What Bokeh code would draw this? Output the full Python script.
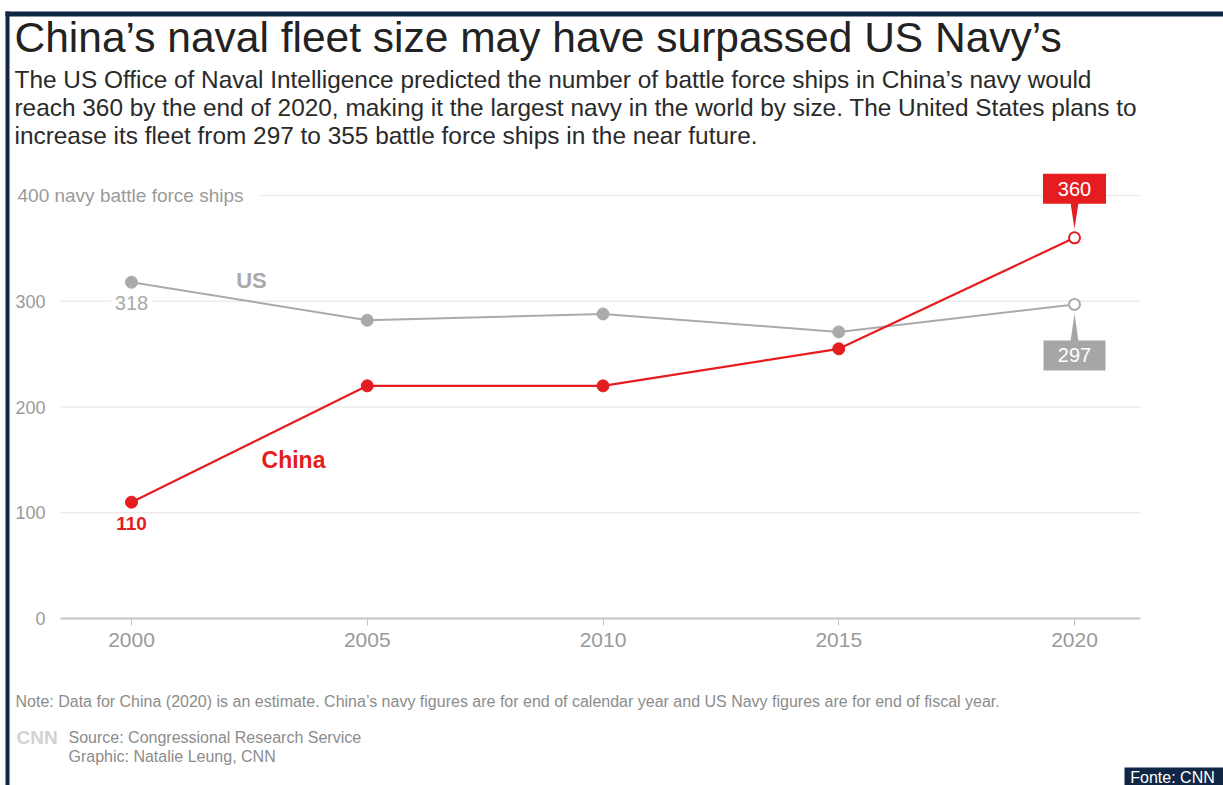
from bokeh.plotting import figure
from bokeh.models import Label, BoxAnnotation, FixedTicker, LinearAxis
from bokeh.core.properties import value
from bokeh.embed import file_html
from bokeh.resources import INLINE

# ---- data ----
years = [2000, 2005, 2010, 2015, 2020]
us_ships = [318, 282, 288, 271, 297]
china_ships = [110, 220, 220, 255, 360]
y_ticks = [0, 100, 200, 300, 400]
grid_vals = [100, 200, 300, 400]

TITLE = "China\u2019s naval fleet size may have surpassed US Navy\u2019s"
SUB = [
    "The US Office of Naval Intelligence predicted the number of battle force ships in China\u2019s navy would",
    "reach 360 by the end of 2020, making it the largest navy in the world by size. The United States plans to",
    "increase its fleet from 297 to 355 battle force ships in the near future.",
]
NOTE = ("Note: Data for China (2020) is an estimate. China\u2019s navy figures are for end of calendar year "
        "and US Navy figures are for end of fiscal year.")
SOURCE = "Source: Congressional Research Service"
GRAPHIC = "Graphic: Natalie Leung, CNN"

RED = "#e51d20"
GRAY = "#aaaaaa"
NAVY = "#0f2744"
FONT = "Liberation Sans"
GFONT = value(FONT)

W, H = 1223, 785
# canvas-pixel layout of the plotting area (whole canvas is the frame)
PX2000, PXPERYEAR = 131, 47.15
PY0, PYPER = 618, 1.0575
x0 = 2000 - PX2000 / PXPERYEAR
x1 = 2000 + (W - PX2000) / PXPERYEAR
y1 = PY0 / PYPER
y0 = -(H - PY0) / PYPER
sx = PXPERYEAR
sy = PYPER


def X(px):
    return x0 + px / sx


def Y(py):
    return y1 - py / sy


p = figure(width=W, height=H, output_backend="svg", toolbar_location=None,
           x_range=(x0, x1), y_range=(y0, y1),
           x_axis_location=None, y_axis_location=None,
           min_border=0, background_fill_color="white", border_fill_color="white")
p.outline_line_color = None
p.grid.visible = False

# gridlines
p.segment(x0=[X(60)] * len(grid_vals), y0=grid_vals, x1=[X(1140)] * len(grid_vals), y1=grid_vals,
          line_color="#ebebeb", line_width=1.5)

# axes
xa = LinearAxis(fixed_location=0, ticker=FixedTicker(ticks=years), bounds=(X(60), X(1140)))
xa.axis_line_color = "#c4c4c4"
xa.axis_line_width = 2
xa.major_tick_line_color = "#c4c4c4"
xa.major_tick_out = 7
xa.major_tick_in = 0
xa.minor_tick_line_color = None
xa.major_label_text_font = FONT
xa.major_label_text_font_size = "21px"
xa.major_label_text_color = "#9a9a9a"
xa.major_label_standoff = 7
p.add_layout(xa, "below")

ya = LinearAxis(fixed_location=X(60), ticker=FixedTicker(ticks=y_ticks), bounds=(0, 400))
ya.axis_line_color = None
ya.major_tick_line_color = None
ya.minor_tick_line_color = None
ya.major_label_text_font = FONT
ya.major_label_text_font_size = "18px"
ya.major_label_text_color = "#9a9a9a"
ya.major_label_standoff = 9
ya.major_label_overrides = {400: ""}
p.add_layout(ya, "left")

# lines
p.line(years, us_ships, line_color=GRAY, line_width=2)
p.line(years, china_ships, line_color=RED, line_width=2.2)
p.scatter(years[:-1], us_ships[:-1], size=12, fill_color=GRAY, line_color=GRAY)
p.scatter(years[:-1], china_ships[:-1], size=12, fill_color=RED, line_color=RED)
p.scatter(years[-1:], us_ships[-1:], size=11, fill_color="white", line_color=GRAY, line_width=2)
p.scatter(years[-1:], china_ships[-1:], size=11, fill_color="white", line_color=RED, line_width=2)

# y label for 400
p.add_layout(Label(x=X(17), y=400, text="400 navy battle force ships", text_font=FONT,
                   text_font_size="19px", text_color="#9a9a9a", text_baseline="middle",
                   background_fill_color="white", padding=(0, 16, 2, 2)))

# series labels
p.add_layout(Label(x=years[0], y=us_ships[0], y_offset=-21, text=str(us_ships[0]), text_font=FONT,
                   text_font_size="20px", text_color=GRAY, text_align="center", text_baseline="middle",
                   background_fill_color="white", padding=(4, 4, 0, 0)))
p.add_layout(Label(x=years[0], y=china_ships[0], y_offset=-21, text=str(china_ships[0]), text_font=FONT,
                   text_font_size="19px", text_font_style="bold", text_color=RED, text_align="center",
                   text_baseline="middle"))
p.add_layout(Label(x=X(251), y=Y(280), text="US", text_font=FONT, text_font_size="22px",
                   text_font_style="bold", text_color=GRAY, text_align="center", text_baseline="middle"))
p.add_layout(Label(x=X(293), y=Y(459), text="China", text_font=FONT, text_font_size="23px",
                   text_font_style="bold", text_color=RED, text_align="center", text_baseline="middle"))

# callouts for 2020
cx = years[-1]
top_c = china_ships[-1] + 49 / sy
bot_c = us_ships[-1] - 51 / sy
p.rect([cx], [top_c], width=63, height=30, width_units="screen", height_units="screen",
       fill_color=RED, line_color=None)
p.patch([cx - 4 / sx, cx + 4 / sx, cx], [top_c - 14 / sy, top_c - 14 / sy, china_ships[-1] + 9 / sy],
        fill_color=RED, line_color=None)
p.text([cx], [top_c], text=[str(china_ships[-1])], text_font=GFONT, text_font_size="20px",
       text_color="white", text_align="center", text_baseline="middle")
p.rect([cx], [bot_c], width=62, height=30, width_units="screen", height_units="screen",
       fill_color="#a6a6a6", line_color=None)
p.patch([cx - 4 / sx, cx + 4 / sx, cx], [bot_c + 14 / sy, bot_c + 14 / sy, us_ships[-1] - 9 / sy],
        fill_color="#a6a6a6", line_color=None)
p.text([cx], [bot_c], text=[str(us_ships[-1])], text_font=GFONT, text_font_size="20px",
       text_color="white", text_align="center", text_baseline="middle")

# title & subtitle
p.add_layout(Label(x=X(14), y=Y(37), text=TITLE, text_font=FONT, text_font_size="42.5px",
                   text_color="#222222", text_baseline="middle"))
for i, line in enumerate(SUB):
    p.add_layout(Label(x=X(14), y=Y(79 + 28 * i), text=line, text_font=FONT, text_font_size="24.4px",
                       text_color="#2a2a2a", text_baseline="middle"))

# footer
p.add_layout(Label(x=X(15), y=Y(701), text=NOTE, text_font=FONT, text_font_size="16px",
                   text_color="#8c8c8c", text_baseline="middle"))
p.add_layout(Label(x=X(16), y=Y(737), text="CNN", text_font=FONT, text_font_size="19px",
                   text_font_style="bold", text_color="#d2d2d2", text_baseline="middle"))
p.add_layout(Label(x=X(68), y=Y(737), text=SOURCE, text_font=FONT, text_font_size="16px",
                   text_color="#8c8c8c", text_baseline="middle"))
p.add_layout(Label(x=X(68), y=Y(756), text=GRAPHIC, text_font=FONT, text_font_size="16px",
                   text_color="#8c8c8c", text_baseline="middle"))

# frame borders of the screenshot
p.add_layout(BoxAnnotation(left=X(5), right=X(1223), top=Y(11), bottom=Y(16),
                           fill_color=NAVY, fill_alpha=1, line_color=None))
p.add_layout(BoxAnnotation(left=X(5), right=X(9), top=Y(11), bottom=Y(785),
                           fill_color=NAVY, fill_alpha=1, line_color=None))
p.add_layout(BoxAnnotation(left=X(1124), right=X(1223), top=Y(767), bottom=Y(785),
                           fill_color=NAVY, fill_alpha=1, line_color=None))
p.add_layout(Label(x=X(1172), y=Y(777), text="Fonte: CNN", text_font=FONT, text_font_size="16px",
                   text_color="white", text_align="center", text_baseline="middle"))

open("out.html", "w").write(file_html(p, INLINE))
